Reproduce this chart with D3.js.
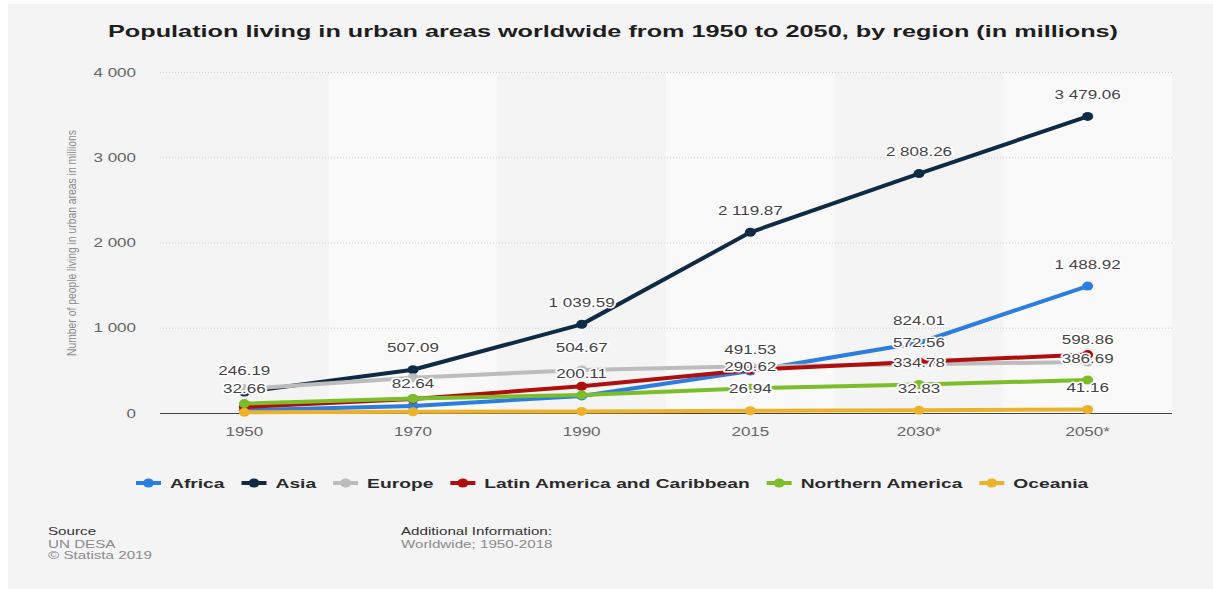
<!DOCTYPE html>
<html><head><meta charset="utf-8">
<script src="https://cdn.jsdelivr.net/npm/d3@7"></script>
<style>html,body{margin:0;padding:0;background:#fff;}svg{display:block;}</style>
</head><body>
<script>
const categories = ["1950","1970","1990","2015","2030*","2050*"];
const seriesNames = ["Africa","Asia","Europe","Latin America and Caribbean","Northern America","Oceania"];
const seriesColors = ["#2b7de0","#0e2a45","#bcbcbc","#b00d0d","#7cbd2a","#edb22c"];
const africa   = [32.66, 82.64, 200.11, 491.53, 824.01, 1488.92];
const asia     = [246.19, 507.09, 1039.59, 2119.87, 2808.26, 3479.06];
const europe   = [283.9, 414.6, 504.67, 547.6, 572.56, 598.86];
const latam    = [69.8, 164.5, 313.9, 505.2, 600.6, 685.4];
const namerica = [110.0, 170.5, 212.0, 290.62, 334.78, 386.69];
const oceania  = [8.06, 13.8, 19.0, 26.94, 32.83, 41.16];
// which data labels are visible in the original (1 = shown)
const labelShown = [
  [1,1,1,1,1,1],
  [1,1,1,1,1,1],
  [0,0,1,0,1,1],
  [0,0,0,0,0,0],
  [0,0,0,1,1,1],
  [0,0,0,1,1,1]
];
const yTicks = [0, 1000, 2000, 3000, 4000];
const title = "Population living in urban areas worldwide from 1950 to 2050, by region (in millions)";
const yTitle = "Number of people living in urban areas in millions";

const values = [africa, asia, europe, latam, namerica, oceania];
const W = 1213, H = 589;
const FONT = "'Liberation Sans', Arial, Helvetica, sans-serif";
const SX = 1.36;
const fmt = v => d3.format(",")(v).replace(/,/g, " ");

const svg = d3.select("body").append("svg").attr("width", W).attr("height", H);
svg.append("rect").attr("x", 8).attr("y", 4).attr("width", W - 8).attr("height", H - 4).attr("fill", "#f4f4f4");

function txt(g, x, y, s, o) {
  return g.append("text")
    .attr("transform", `translate(${x},${y}) scale(${o.sx || SX},1)`)
    .attr("font-family", FONT)
    .attr("font-size", o.size || 12)
    .attr("font-weight", o.weight || "normal")
    .attr("fill", o.fill || "#666")
    .attr("text-anchor", o.anchor || "start")
    .text(s);
}

const x = d3.scaleBand().domain(categories).range([160, 1172]).padding(0);
const cx = c => x(c) + x.bandwidth() / 2;
const y = d3.scaleLinear().domain([0, 4000]).range([413, 72]);

// alternating bands
svg.append("g").selectAll("rect").data(categories.filter((c, i) => i % 2 === 1)).join("rect")
  .attr("x", d => x(d)).attr("y", y(4000)).attr("width", x.bandwidth()).attr("height", y(0) - y(4000))
  .attr("fill", "#f9f9f9");

// grid lines
svg.append("g").selectAll("line").data(yTicks.filter(d => d > 0)).join("line")
  .attr("x1", 160).attr("x2", 1172).attr("y1", d => y(d) + 0.5).attr("y2", d => y(d) + 0.5)
  .attr("stroke", "#cfcfcf").attr("stroke-width", 1).attr("stroke-dasharray", "1,2");

// y tick labels
const yg = svg.append("g");
yTicks.forEach(t => txt(yg, 136, y(t) + 4.5, fmt(t), {size: 12.5, fill: "#666", anchor: "end"}));

// y title
svg.append("text")
  .attr("transform", `translate(76,243) rotate(-90)`)
  .attr("font-family", FONT).attr("font-size", 12.5).attr("fill", "#8a8a8a")
  .attr("text-anchor", "middle")
  .attr("textLength", 226).attr("lengthAdjust", "spacingAndGlyphs")
  .text(yTitle);

// x axis line
svg.append("line").attr("x1", 160).attr("x2", 1172).attr("y1", y(0) + 0.5).attr("y2", y(0) + 0.5)
  .attr("stroke", "#444").attr("stroke-width", 1);

// x labels
const xg = svg.append("g");
categories.forEach(c => txt(xg, cx(c), 436, c, {size: 12.5, fill: "#666", anchor: "middle"}));

// lines & markers
const line = d3.line().x((d, i) => cx(categories[i])).y(d => y(d));
const sg = svg.append("g");
values.forEach((vals, si) => {
  sg.append("path").attr("d", line(vals)).attr("fill", "none")
    .attr("stroke", seriesColors[si]).attr("stroke-width", 4).attr("stroke-linejoin", "round");
  sg.append("g").selectAll("ellipse").data(vals).join("ellipse")
    .attr("cx", (d, i) => cx(categories[i])).attr("cy", d => y(d))
    .attr("rx", 5.5).attr("ry", 4.5).attr("fill", seriesColors[si]);
});

// data labels
const lg = svg.append("g");
values.forEach((vals, si) => {
  vals.forEach((v, i) => {
    if (!labelShown[si][i]) return;
    txt(lg, cx(categories[i]), y(v) - 17.5, fmt(v), {size: 12.5, fill: "#444", anchor: "middle"})
      .attr("stroke", "#ffffff").attr("stroke-width", 3).attr("stroke-linejoin", "round")
      .attr("paint-order", "stroke");
  });
});

// title
svg.append("text").attr("x", 613).attr("y", 37)
  .attr("font-family", FONT).attr("font-size", 16.5).attr("font-weight", "bold").attr("fill", "#1e1e1e")
  .attr("text-anchor", "middle").attr("textLength", 1010).attr("lengthAdjust", "spacingAndGlyphs")
  .text(title);

// legend
const leg = svg.append("g");
let lx = 136;
const LSX = 1.48;
seriesNames.forEach((n, si) => {
  leg.append("line").attr("x1", lx).attr("x2", lx + 25).attr("y1", 483).attr("y2", 483)
    .attr("stroke", seriesColors[si]).attr("stroke-width", 4);
  leg.append("ellipse").attr("cx", lx + 12.5).attr("cy", 483).attr("rx", 5.5).attr("ry", 4.5).attr("fill", seriesColors[si]);
  const t = txt(leg, lx + 34, 487.5, n, {size: 13, weight: "bold", fill: "#2a2a2a", sx: LSX});
  const w = t.node().getComputedTextLength() * LSX;
  lx = lx + 34 + w + 17;
});

// footer
const fg = svg.append("g");
txt(fg, 48, 535, "Source", {size: 11, fill: "#333", sx: 1.38});
txt(fg, 48, 547.5, "UN DESA", {size: 11, fill: "#8a8a8a", sx: 1.38});
txt(fg, 48, 559, "\u00A9 Statista 2019", {size: 11, fill: "#8a8a8a", sx: 1.38});
txt(fg, 401, 535, "Additional Information:", {size: 11, fill: "#333", sx: 1.38});
txt(fg, 401, 547.5, "Worldwide; 1950-2018", {size: 11, fill: "#8a8a8a", sx: 1.38});
</script>
</body></html>
